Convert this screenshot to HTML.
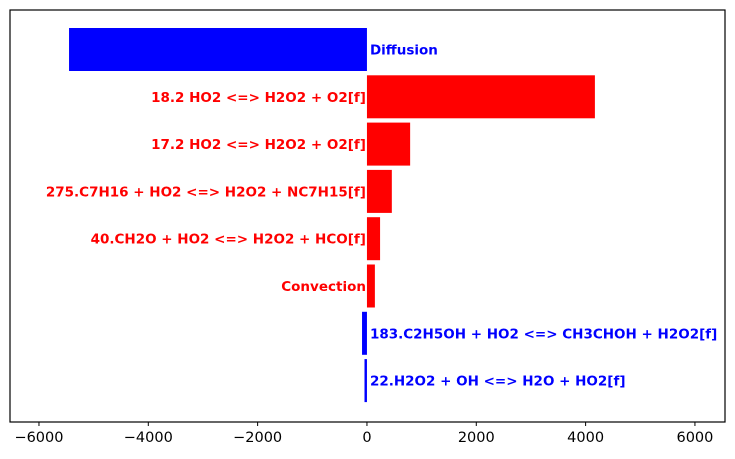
<!DOCTYPE html>
<html><head><meta charset="utf-8"><style>
body{margin:0;background:#fff;}
svg text{font-family:"DejaVu Sans","Liberation Sans",sans-serif;}
</style></head><body>
<svg id="chart" width="735" height="454"></svg>
<script>
const categories=["Diffusion","18.2 HO2 <=> H2O2 + O2[f]","17.2 HO2 <=> H2O2 + O2[f]","275.C7H16 + HO2 <=> H2O2 + NC7H15[f]","40.CH2O + HO2 <=> H2O2 + HCO[f]","Convection","183.C2H5OH + HO2 <=> CH3CHOH + H2O2[f]","22.H2O2 + OH <=> H2O + HO2[f]"];
const values=[-5450,4170,790,455,240,145,-90,-45];
const tickValues=[-6000,-4000,-2000,0,2000,4000,6000];
const tickLabels=["\u22126000","\u22124000","\u22122000","0","2000","4000","6000"];
const NS="http://www.w3.org/2000/svg";
const svg=document.getElementById('chart');
const L=10,R=725,T=10,B=422,xmin=-6530,xmax=6550;
const x=v=>L+(v-xmin)/(xmax-xmin)*(R-L);
const step=47.3,y0=49.5,bh=43;
const y=i=>y0+i*step;
function mk(tag,attrs){const e=document.createElementNS(NS,tag);for(const k in attrs)e.setAttribute(k,attrs[k]);svg.appendChild(e);return e;}
values.forEach((v,i)=>{
  const c=v<0?'#0000ff':'#ff0000';
  const r=mk('rect',{x:Math.min(x(0),x(v)),y:y(i)-bh/2,width:Math.abs(x(v)-x(0)),height:bh,fill:c});
  
  
  const t=mk('text',{x:v<0?x(0)+3:x(0)-1,y:y(i)+5,'text-anchor':v<0?'start':'end',fill:c,'font-size':'13.5','font-weight':'bold'});
  t.textContent=categories[i];
  
  
});
const f=mk('rect',{x:L,y:T,width:R-L,height:B-T,fill:'none',stroke:'#000','stroke-width':1.2});


tickValues.forEach((v,i)=>{
  const l=mk('line',{x1:x(v),x2:x(v),y1:B,y2:B+4,stroke:'#000'});
  
  
  const t=mk('text',{x:x(v),y:B+20,'text-anchor':'middle','font-size':'14.5',fill:'#000'});
  t.textContent=tickLabels[i];
  
  
});
</script>
</body></html>
